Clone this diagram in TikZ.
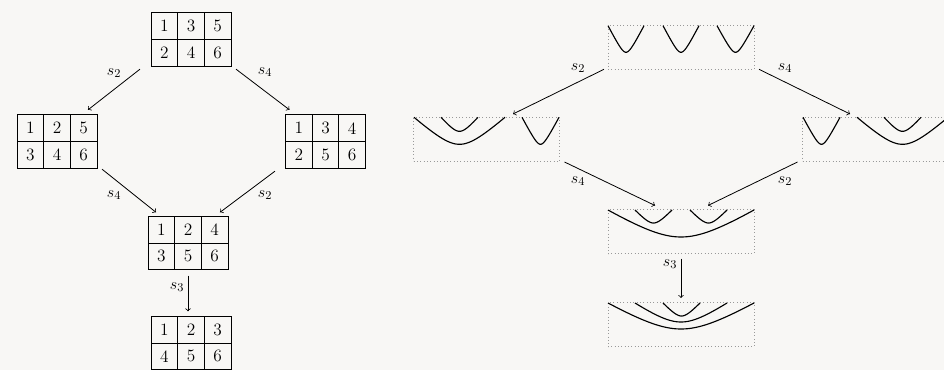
\documentclass[tikz,border=0pt]{standalone}
\usetikzlibrary{calc}
\definecolor{bg}{HTML}{F8F7F5}
\newcommand\tabl[8]{%
  \node[tabbox] (#1) at (#2) {};
  \draw[tabline] ($(#1.north)+(-13.333,0)$) -- ($(#1.south)+(-13.333,0)$)
     ($(#1.north)+(13.333,0)$) -- ($(#1.south)+(13.333,0)$)
     (#1.west) -- (#1.east);
  \node[num] (#1-a) at ($(#1.center)+(-26.667,-13.333)$) {#3};
  \node[num] (#1-b) at ($(#1.center)+(0,-13.333)$) {#4};
  \node[num] (#1-c) at ($(#1.center)+(26.667,-13.333)$) {#5};
  \node[num] (#1-d) at ($(#1.center)+(-26.667,13.333)$) {#6};
  \node[num] (#1-e) at ($(#1.center)+(0,13.333)$) {#7};
  \node[num] (#1-f) at ($(#1.center)+(26.667,13.333)$) {#8};
}
\newcommand\strand[5]{%
  \draw[strandline] plot[domain=#1:#2, samples=60, smooth]
    (\x, {#3+#4-#4*(sqrt((\x-(#1+#2)/2)^2+#5*#5)-#5)/(sqrt(((#2-#1)/2)^2+#5*#5)-#5)});
}
\begin{document}
\begin{tikzpicture}[x=0.75pt,y=-0.75pt,
  tabbox/.style={draw, line width=0.6pt, minimum width=60pt, minimum height=40pt, inner sep=0pt, outer sep=0pt},
  tabline/.style={line width=0.6pt},
  num/.style={inner sep=0pt, font=\fontsize{13}{15}\selectfont},
  lbl/.style={inner sep=0pt, font=\fontsize{13}{15}\selectfont},
  cbox/.style={draw=gray!80, dotted, line width=0.5pt, minimum width=109.5pt, minimum height=33pt, inner sep=0pt, outer sep=0pt},
  strandline/.style={line width=0.85pt},
  arr/.style={->, line width=0.6pt}]
\useasboundingbox (0,0) rectangle (944,370);
\fill[bg] (0,0) rectangle (944,370);
\clip (0,0) rectangle (944,370);

% ---------- left diagram: tableaux ----------
\tabl{T}{191,39.5}{1}{3}{5}{2}{4}{6}
\tabl{Lt}{57,141.5}{1}{2}{5}{3}{4}{6}
\tabl{Rt}{325.5,141.5}{1}{3}{4}{2}{5}{6}
\tabl{Mt}{188,243}{1}{2}{4}{3}{5}{6}
\tabl{Bt}{191,343}{1}{2}{3}{4}{5}{6}

\draw[arr] ($(T.south west)+(-11,3)$) -- ($(Lt.north east)+(-9,-5)$);
\draw[arr] ($(T.south east)+(5,3)$) -- ($(Rt.north west)+(4,-5)$);
\draw[arr] ($(Lt.south east)+(5,1)$) -- ($(Mt.north west)+(8,-4)$);
\draw[arr] ($(Rt.south west)+(-10.5,3)$) -- ($(Mt.north east)+(-8,-4)$);
\draw[arr] ($(Mt.south)+(0,6)$) -- ($(Bt.north)+(-3,-5)$);

\node[lbl] (la1) at (114,73) {$s_2$};
\node[lbl] (la2) at (265,72) {$s_4$};
\node[lbl] (la3) at (114,195) {$s_4$};
\node[lbl] (la4) at (265,195) {$s_2$};
\node[lbl] (la5) at (177,287) {$s_3$};

% ---------- right diagram: strand boxes ----------
\node[cbox] (TB) at (681,47.3) {};
\node[cbox] (LB) at (486.5,139) {};
\node[cbox] (RB) at (875.5,139) {};
\node[cbox] (MB) at (681,231.5) {};
\node[cbox] (BB) at (681,324.5) {};

% top box
\strand{608}{644}{25.7}{26.6}{5}
\strand{663}{699}{25.7}{26.6}{5}
\strand{717}{754}{25.7}{26.6}{5}
% left box
\strand{414}{505}{117.3}{27}{20}
\strand{441}{478}{117.3}{14}{8}
\strand{522}{559}{117.3}{27}{5}
% right box
\strand{803}{840}{117.3}{27}{5}
\strand{857}{948}{117.3}{27}{20}
\strand{884}{921}{117.3}{14}{8}
% middle box
\strand{608}{754}{210}{27}{40}
\strand{635}{672}{210}{13}{8}
\strand{690}{727}{210}{13}{8}
% bottom box
\strand{608}{754}{303}{26}{40}
\strand{635}{727}{303}{19}{25}
\strand{663}{700}{303}{13}{8}

\draw[arr] ($(TB.south west)+(-4,0)$) -- ($(LB.north)+(26.5,-3)$);
\draw[arr] ($(TB.south east)+(5,0)$) -- ($(RB.north)+(-25.5,-3)$);
\draw[arr] ($(LB.south east)+(5,1)$) -- ($(MB.north)+(-26,-4)$);
\draw[arr] ($(RB.south west)+(-5,1)$) -- ($(MB.north)+(27,-4)$);
\draw[arr] ($(MB.south)+(0,5)$) -- ($(BB.north)+(0,-4.5)$);

\node[lbl] (lb1) at (578,68) {$s_2$};
\node[lbl] (lb2) at (785,68) {$s_4$};
\node[lbl] (lb3) at (578,181) {$s_4$};
\node[lbl] (lb4) at (785,181) {$s_2$};
\node[lbl] (lb5) at (670,264) {$s_3$};
\end{tikzpicture}
\end{document}
